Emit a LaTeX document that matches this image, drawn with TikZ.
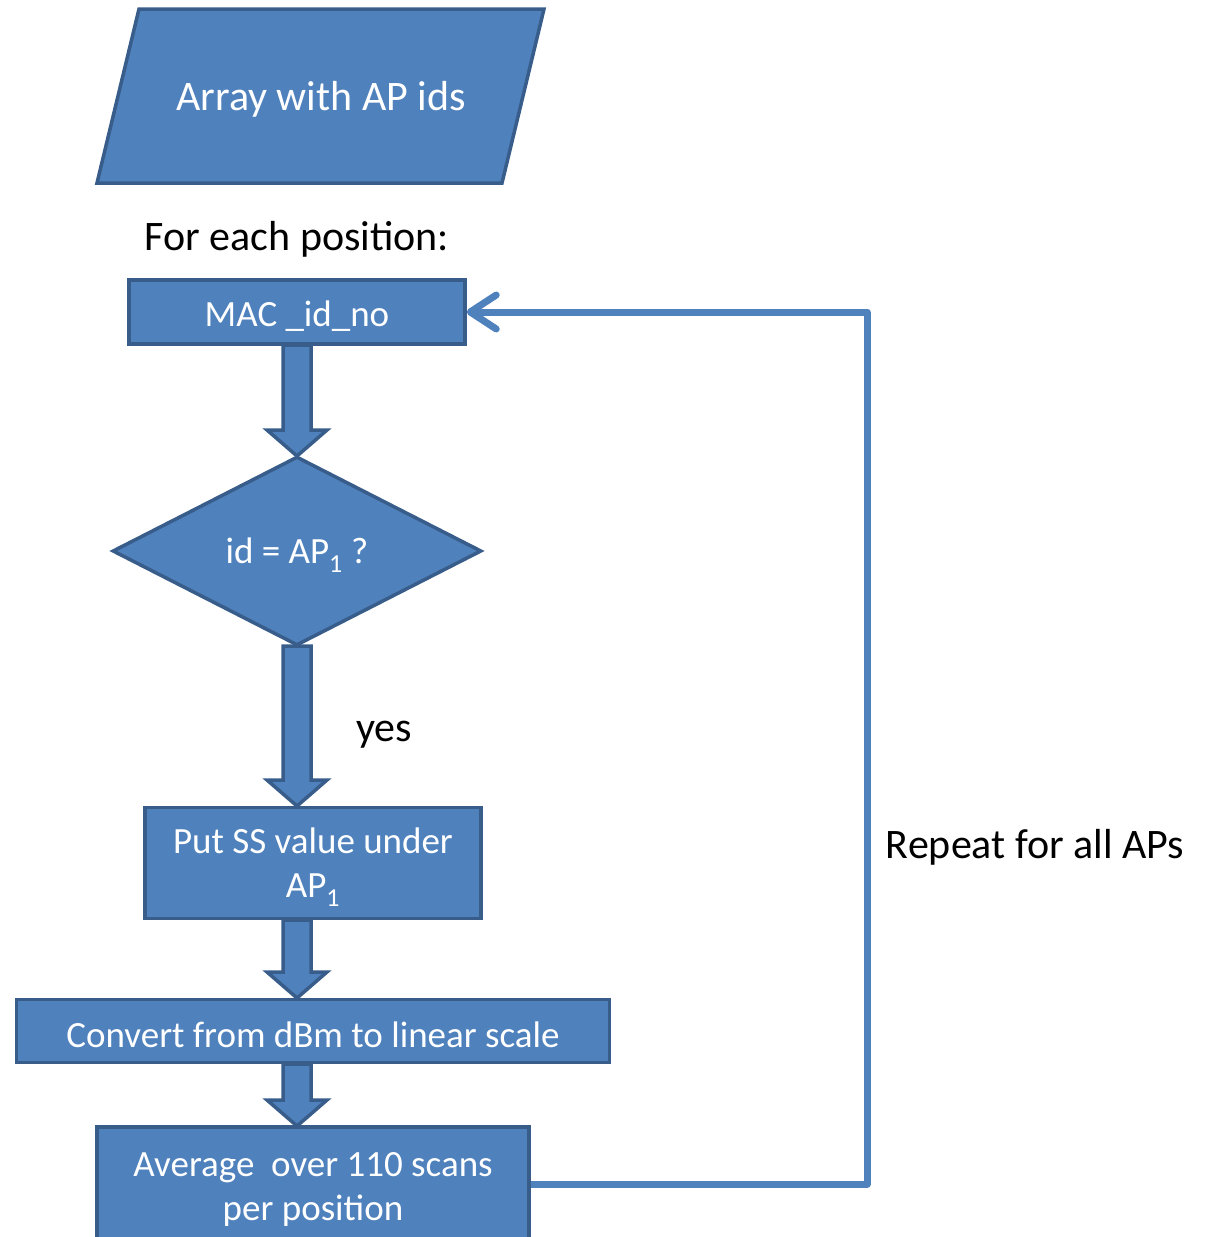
\documentclass[tikz,border=0pt]{standalone}
\usepackage{fontspec}
\setmainfont{Carlito}
\usetikzlibrary{shapes.geometric,arrows.meta,calc}
\definecolor{boxfill}{HTML}{4F81BD}
\definecolor{boxline}{HTML}{385D8A}
\newcommand\lowstrut{\rule{0pt}{34pt}}
\tikzset{
  box/.style={draw=boxline, fill=boxfill, line width=3.5pt, text=white, inner sep=0pt, align=center, font=\fontsize{37}{44}\selectfont},
  bigtext/.style={inner sep=0pt, font=\fontsize{42}{50}\selectfont},
  barrow/.style={draw=boxline, fill=boxfill, line width=3.5pt, line join=miter},
  loopline/.style={draw=boxfill, line width=7pt, line join=round, -{Straight Barb[length=26pt,width=34pt,line width=7pt,round]}},
}
\newcommand\blockarr[2]{%
  \path[barrow] let \p1=(#1), \p2=(#2) in
    (\x1-14pt,\y1) -- (\x1-14pt,\y2+26pt) -- (\x1-30pt,\y2+26pt) -- (\x1,\y2)
    -- (\x1+30pt,\y2+26pt) -- (\x1+14pt,\y2+26pt) -- (\x1+14pt,\y1) -- cycle;}
\begin{document}
\begin{tikzpicture}[x=1pt,y=-1pt]
\useasboundingbox (0,0) rectangle (1207,1237);
\clip (0,0) rectangle (1207,1237);
% input parallelogram
\path[barrow] (139,9) -- (544,9) -- (502,183) -- (97,183) -- cycle;
\node[bigtext, text=white] (arr) at (321,99) {Array with AP ids};
\node[bigtext] (fep) at (297,239) {For each position:};
% process nodes
\node[box, minimum width=336pt, minimum height=64pt] (mac) at (297,312) {\lowstrut MAC \_id\_no};
\node[box, diamond, aspect=1.94, minimum width=369pt, minimum height=189pt] (dia) at (297,551) {\lowstrut id = AP\textsubscript{1} ?};
\node[box, minimum width=336pt, minimum height=111pt] (put) at (313,863) {\lowstrut Put SS value under\\AP\textsubscript{1}};
\node[box, minimum width=593pt, minimum height=63pt] (conv) at (313,1031) {\lowstrut Convert from dBm to linear scale};
\node[box, minimum width=432pt, minimum height=114pt] (avg) at (313,1184) {\lowstrut Average \ over 110 scans\\per position};
% block arrows
\coordinate (a1s) at (297,345);
\coordinate (a1e) at (297,456);
\coordinate (a2s) at (297,646);
\coordinate (a2e) at (297,806);
\coordinate (a3s) at (297,920);
\coordinate (a3e) at (297,998);
\coordinate (a4s) at (297,1064);
\coordinate (a4e) at (297,1126);
\blockarr{a1s}{a1e}
\blockarr{a2s}{a2e}
\blockarr{a3s}{a3e}
\blockarr{a4s}{a4e}
\node[bigtext] (yes) at (384,735) {yes};
% loop back
\coordinate (corner) at (867,1184);
\draw[loopline] (avg.east) -- (corner) |- (mac.east);
\node[bigtext] (rep) at (1035,847) {Repeat for all APs};
\end{tikzpicture}
\end{document}
